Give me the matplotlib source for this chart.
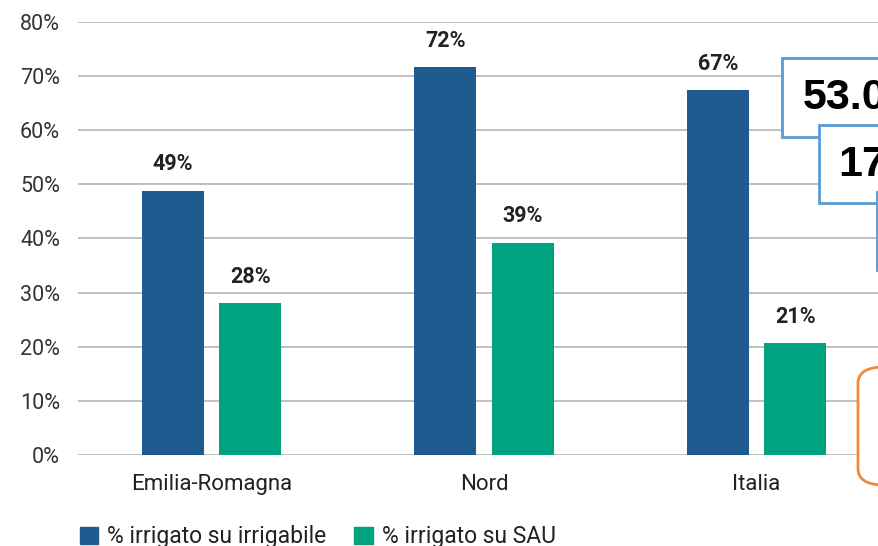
import matplotlib.pyplot as plt
from matplotlib.patches import Rectangle, FancyBboxPatch

categories = ['Emilia-Romagna', 'Nord', 'Italia']
irrigato_irrigabile = [48.8, 71.7, 67.4]
irrigato_sau = [28.0, 39.2, 20.7]
labels_irrigabile = ['49%', '72%', '67%']
labels_sau = ['28%', '39%', '21%']
series_names = ['% irrigato su irrigabile', '% irrigato su SAU']
box_texts = ['53.0', '17']

BLUE = '#1f5b8e'
GREEN = '#00a27f'

plt.rcParams['font.family'] = ['Roboto', 'DejaVu Sans']

W, H = 879, 546
fig = plt.figure(figsize=(W / 100, H / 100), dpi=100)
ax = fig.add_axes([78 / W, 1 - 455 / H, 1 - 78 / W, (455 - 22) / H])

x = list(range(len(categories)))
width = 0.228
off = 0.142
b1 = ax.bar([i - off for i in x], irrigato_irrigabile, width, color=BLUE, zorder=3)
b2 = ax.bar([i + off for i in x], irrigato_sau, width, color=GREEN, zorder=3)

for bars, labs in ((b1, labels_irrigabile), (b2, labels_sau)):
    for bar, lab in zip(bars, labs):
        ax.annotate(lab, (bar.get_x() + bar.get_width() / 2, bar.get_height()),
                    xytext=(0, 19), textcoords='offset points', ha='center', va='center',
                    fontsize=15.5, fontweight='bold', color='#222222')

ax.set_ylim(0, 80)
ax.set_xlim(-0.49, 2.45)
ax.set_yticks(range(0, 81, 10))
ax.set_yticklabels([f'{v}%' for v in range(0, 81, 10)], fontsize=15.5, color='#333333')
ax.set_xticks(x)
ax.set_xticklabels(categories, fontsize=16, color='#222222')
ax.tick_params(axis='both', length=0)
ax.tick_params(axis='y', pad=13)
ax.tick_params(axis='x', pad=14)
ax.grid(axis='y', color='#c0c0c0', linewidth=1.4, zorder=0)
for s in ax.spines.values():
    s.set_visible(False)

# legend squares at bottom
fig.legend([Rectangle((0, 0), 1, 1, color=BLUE), Rectangle((0, 0), 1, 1, color=GREEN)],
           series_names, loc='center left', bbox_to_anchor=(80 / W, 1 - 537 / H),
           ncol=2, frameon=False, fontsize=16.5, handlelength=0.8, handleheight=0.8,
           handletextpad=0.4, columnspacing=1.2, borderpad=0, borderaxespad=0,
           labelcolor='#222222')

# overlapping slide boxes on the right
def fig_box(x0, y0, x1, y1, ec):
    fig.patches.append(Rectangle((x0 / W, 1 - y1 / H), (x1 - x0) / W, (y1 - y0) / H,
                                 transform=fig.transFigure, facecolor='white',
                                 edgecolor=ec, linewidth=2, zorder=5))

fig_box(782, 58, 900, 137, '#5b9bd5')
fig.text(803 / W, 1 - 98 / H, box_texts[0], fontsize=31, fontweight='bold',
         va='center', ha='left', zorder=6, family=['Liberation Sans', 'DejaVu Sans'])
fig_box(819, 125, 900, 203, '#5b9bd5')
fig.text(838 / W, 1 - 165 / H, box_texts[1], fontsize=31, fontweight='bold',
         va='center', ha='left', zorder=6, family=['Liberation Sans', 'DejaVu Sans'])
fig_box(877, 192, 900, 270, '#5b9bd5')
fig.patches.append(FancyBboxPatch((858 / W, 1 - 485 / H), 60 / W, 118 / H,
                                  boxstyle='round,pad=0,rounding_size=0.03',
                                  transform=fig.transFigure, facecolor='white',
                                  edgecolor='#f08a3c', linewidth=2, zorder=5))

fig.savefig('out.png', dpi=100)
